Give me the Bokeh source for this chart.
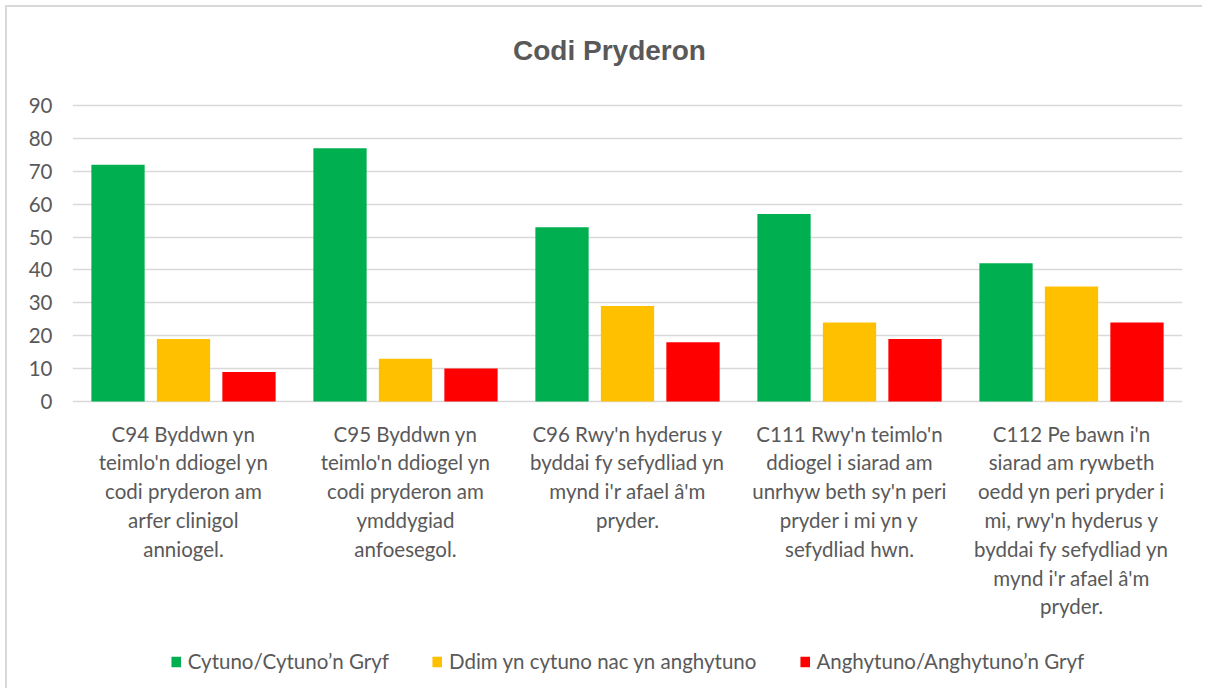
from bokeh.plotting import figure
from bokeh.models import ColumnDataSource, Legend, LegendItem, FixedTicker, Range1d
from bokeh.core.properties import value
from bokeh.transform import dodge
from bokeh.embed import file_html
from bokeh.resources import INLINE

title = "Codi Pryderon"
categories = [
    "C94 Byddwn yn\nteimlo'n ddiogel yn\ncodi pryderon am\narfer clinigol\nanniogel.",
    "C95 Byddwn yn\nteimlo'n ddiogel yn\ncodi pryderon am\nymddygiad\nanfoesegol.",
    "C96 Rwy'n hyderus y\nbyddai fy sefydliad yn\nmynd i'r afael â'm\npryder.",
    "C111 Rwy'n teimlo'n\nddiogel i siarad am\nunrhyw beth sy'n peri\npryder i mi yn y\nsefydliad hwn.",
    "C112 Pe bawn i'n\nsiarad am rywbeth\noedd yn peri pryder i\nmi, rwy'n hyderus y\nbyddai fy sefydliad yn\nmynd i'r afael â'm\npryder.",
]
series_names = ["Cytuno/Cytuno\u2019n Gryf", "Ddim yn cytuno nac yn anghytuno", "Anghytuno/Anghytuno\u2019n Gryf"]
agree = [72, 77, 53, 57, 42]
neutral = [19, 13, 29, 24, 35]
disagree = [9, 10, 18, 19, 24]
colors = ["#00B050", "#FFC000", "#FF0000"]
y_ticks = [0, 10, 20, 30, 40, 50, 60, 70, 80, 90]

FONT = "Lato"
TXT = "#595959"

# layout (pixels): value axis 0..90 spans 296 px; frame extends above/below for title, labels and legend
PX_PER_UNIT = 296 / 90
FRAME_TOP_PAD = 98     # px above the 90 line
FRAME_BOTTOM_PAD = 287  # px below the 0 line
y_lo = -FRAME_BOTTOM_PAD / PX_PER_UNIT
y_hi = 90 + FRAME_TOP_PAD / PX_PER_UNIT

src = ColumnDataSource(dict(x=list(range(len(categories))), label=categories,
                            agree=agree, neutral=neutral, disagree=disagree))

p = figure(frame_width=1110, frame_height=296 + FRAME_TOP_PAD + FRAME_BOTTOM_PAD,
           output_backend="svg", toolbar_location=None, title=None,
           x_range=Range1d(-0.5, len(categories) - 0.5), y_range=Range1d(y_lo, y_hi),
           min_border_left=65, min_border_right=20, min_border_top=0, min_border_bottom=0)
p.styles = {"margin-left": "5px", "margin-top": "5px",
            "border-left": "2px solid #d9d9d9", "border-top": "2px solid #d9d9d9"}

renderers = []
for i, (col, c) in enumerate(zip(["agree", "neutral", "disagree"], colors)):
    r = p.vbar(x=dodge("x", (i - 1) * 0.295, range=p.x_range), top=col, width=0.24,
               source=src, fill_color=c, line_color=None)
    renderers.append(r)

# category labels under the baseline
p.text(x="x", y=-20 / PX_PER_UNIT, text="label", source=src,
       text_font=value(FONT), text_font_size=value("20.5px"), text_color=TXT,
       text_align="center", text_baseline="top", text_line_height=1.2)

# chart title
p.text(x=[(609 - 72) / 222 - 0.5], y=[90 + 55 / PX_PER_UNIT], text=[title],
       text_font=value("Liberation Sans"), text_font_size=value("28px"), text_font_style="bold",
       text_color=TXT, text_align="center", text_baseline="middle")

p.outline_line_color = None
p.background_fill_color = "white"
p.xaxis.visible = False
p.xgrid.grid_line_color = None
p.ygrid.grid_line_color = "#d9d9d9"
p.ygrid.grid_line_width = 1.5

p.yaxis.ticker = FixedTicker(ticks=y_ticks)
p.yaxis.axis_line_color = None
p.yaxis.major_tick_line_color = None
p.yaxis.minor_tick_line_color = None
p.yaxis.major_label_text_font = FONT
p.yaxis.major_label_text_font_size = "20.5px"
p.yaxis.major_label_text_color = TXT
p.yaxis.major_label_standoff = 14

legend = Legend(items=[LegendItem(label=n, renderers=[r]) for n, r in zip(series_names, renderers)],
                orientation="horizontal", location="bottom_center",
                label_text_font=FONT, label_text_font_size="20.5px", label_text_color=TXT,
                glyph_width=12, glyph_height=13, label_standoff=6, spacing=42,
                border_line_color=None, background_fill_alpha=0, margin=15, padding=0)
p.add_layout(legend, "center")

open("out.html", "w").write(file_html(p, INLINE))
